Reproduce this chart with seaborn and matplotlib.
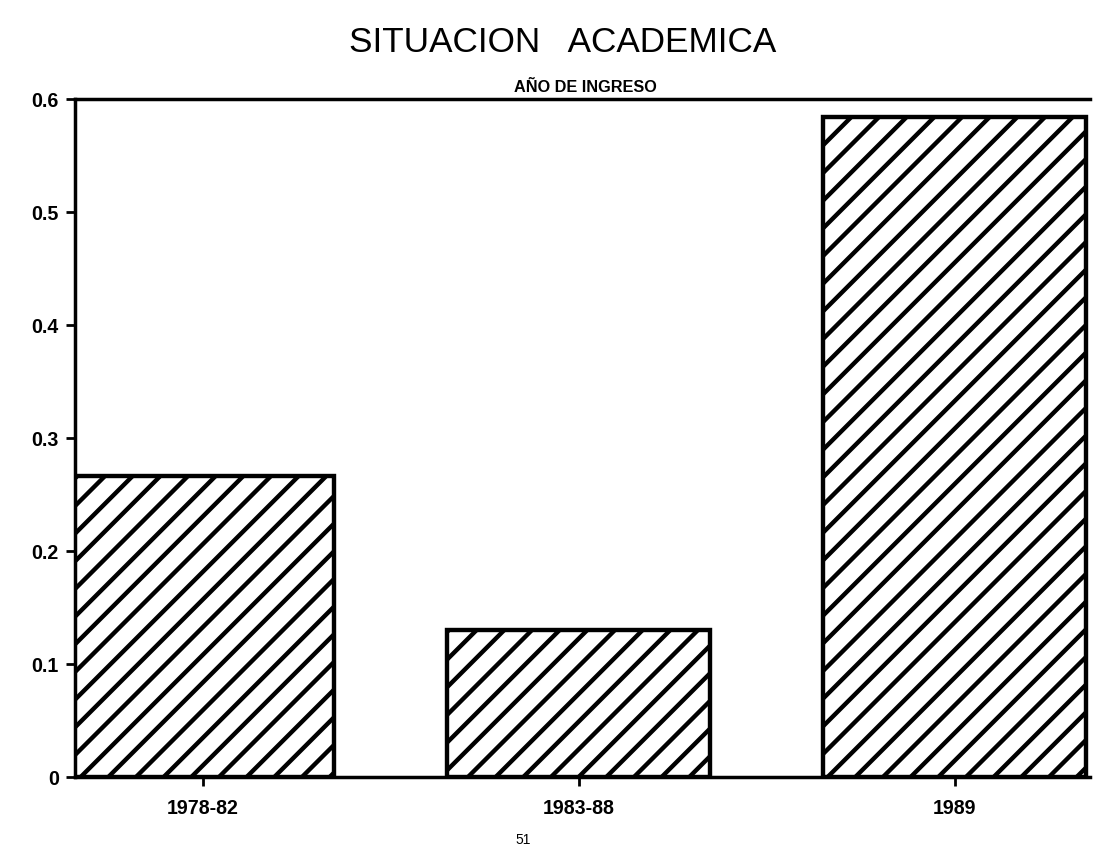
import pandas as pd
import matplotlib.pyplot as plt
import seaborn as sns

# data
periodos = ["1978-82", "1983-88", "1989"]
proporcion = [0.266, 0.130, 0.584]
y_ticks = [0, 0.1, 0.2, 0.3, 0.4, 0.5, 0.6]
y_labels = ["0", "0.1", "0.2", "0.3", "0.4", "0.5", "0.6"]

DPI = 166.5
sns.set_style("white")
plt.rcParams["font.family"] = ["Liberation Sans", "DejaVu Sans"]
plt.rcParams["hatch.linewidth"] = 1.9
plt.rcParams["hatch.color"] = "black"
plt.rcParams["text.color"] = "black"
plt.rcParams["xtick.color"] = "black"
plt.rcParams["ytick.color"] = "black"

df = pd.DataFrame({"periodo": periodos, "valor": proporcion})

fig = plt.figure(figsize=(1099 / DPI, 846 / DPI), dpi=DPI)
ax = fig.add_axes([75 / 1099, 1 - 778 / 846, (1090 - 75) / 1099, (778 - 100) / 846])

sns.barplot(data=df, x="periodo", y="valor", color="white", edgecolor="black",
            linewidth=1.9, width=0.7, ax=ax)
for p in ax.patches:
    p.set_hatch("//")

ax.set_xlim(-0.34, 2.36)
ax.set_ylim(0, 0.6)
ax.set_yticks(y_ticks)
ax.set_yticklabels(y_labels, fontsize=8.5, fontweight="bold")
ax.set_xticks(range(len(periodos)))
ax.set_xticklabels(periodos, fontsize=8.5, fontweight="bold")
ax.set_xlabel("")
ax.set_ylabel("")
ax.tick_params(axis="both", direction="out", length=4, width=1.2, color="black",
               left=True, bottom=True)
ax.tick_params(axis="y", pad=3)
ax.tick_params(axis="x", pad=5)

for s in ["left", "bottom", "top"]:
    ax.spines[s].set_visible(True)
    ax.spines[s].set_color("black")
    ax.spines[s].set_linewidth(1.5)
ax.spines["right"].set_visible(False)

fig.text(563 / 1099, 1 - 42 / 846, "SITUACION   ACADEMICA", ha="center", va="center",
         fontsize=15.2)
fig.text(585 / 1099, 1 - 87 / 846, "AÑO DE INGRESO", ha="center", va="center",
         fontsize=7, fontweight="bold")
fig.text(523 / 1099, 1 - 840 / 846, "51", ha="center", va="center", fontsize=6)

fig.savefig("out.png", dpi=DPI)
